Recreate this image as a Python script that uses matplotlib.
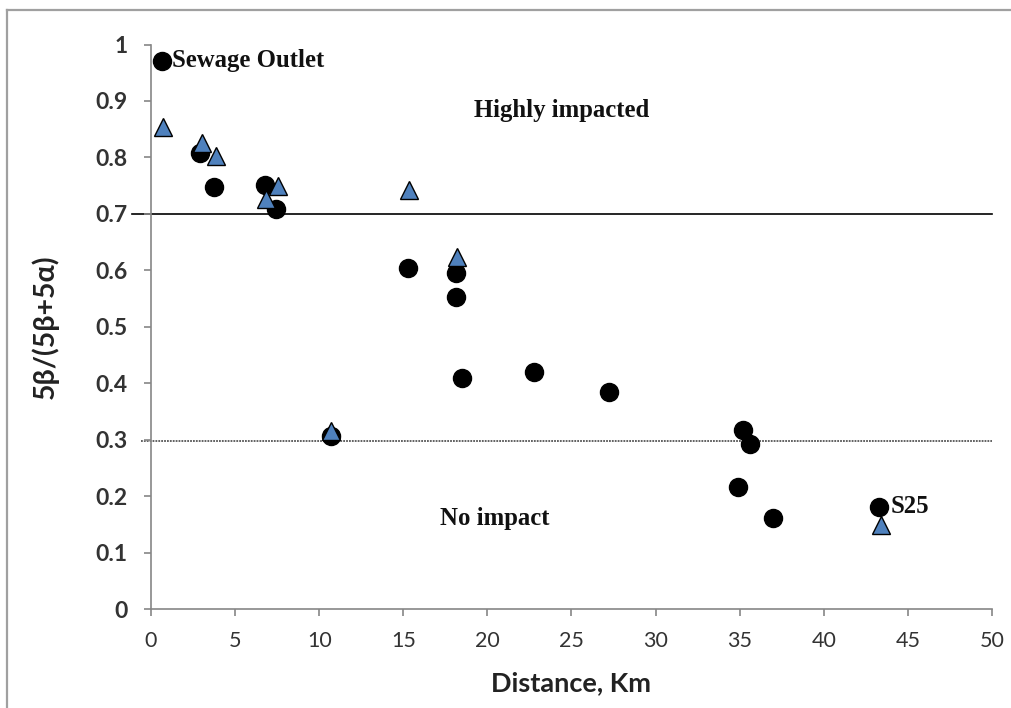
import matplotlib
matplotlib.use('Agg')
import matplotlib.pyplot as plt
from matplotlib.lines import Line2D

# Data
circle_x = [0.67, 2.91, 3.77, 6.78, 7.43, 10.7, 15.3, 18.11, 18.11, 18.47,
            22.79, 27.21, 35.21, 35.61, 34.92, 37.0, 43.3]
circle_y = [0.971, 0.807, 0.748, 0.751, 0.709, 0.306, 0.605, 0.595, 0.552,
            0.409, 0.420, 0.385, 0.318, 0.292, 0.216, 0.161, 0.181]
triangle_x = [0.73, 3.01, 3.85, 6.84, 7.53, 10.7, 15.33, 18.17, 43.4]
triangle_y = [0.854, 0.826, 0.802, 0.726, 0.749, 0.315, 0.743, 0.623, 0.149]

high_threshold = 0.7
low_threshold = 0.297

x_ticks = [0, 5, 10, 15, 20, 25, 30, 35, 40, 45, 50]
y_ticks = [0, 0.1, 0.2, 0.3, 0.4, 0.5, 0.6, 0.7, 0.8, 0.9, 1]
y_tick_labels = ['0', '0.1', '0.2', '0.3', '0.4', '0.5', '0.6', '0.7', '0.8', '0.9', '1']

sans = ['Lato', 'DejaVu Sans']
serif = ['Liberation Serif', 'DejaVu Serif']

fig = plt.figure(figsize=(10.12, 7.08), dpi=100)
ax = fig.add_axes([0.1492, 0.1398, 0.8310, 0.7973])

# Threshold lines
ax.plot([-1.1, 50], [high_threshold, high_threshold], color='black', lw=1.2,
        clip_on=False, zorder=1)
ax.plot([-0.6, 50], [low_threshold, low_threshold], color='#555555', lw=1.3,
        linestyle=(0, (1, 0.6)), clip_on=False, zorder=1)

# Points
ax.plot(circle_x, circle_y, 'o', color='black', markersize=13, zorder=3,
        clip_on=False)
ax.plot(triangle_x, triangle_y, '^', markerfacecolor='#4F81BD',
        markeredgecolor='black', markeredgewidth=1.0, markersize=13, zorder=4,
        clip_on=False)

# Annotations
ax.text(1.25, 0.971, 'Sewage Outlet', family=serif, weight='bold',
        fontsize=17.8, ha='left', va='center', color='#111111')
ax.text(24.4, 0.884, 'Highly impacted', family=serif, weight='bold',
        fontsize=17.8, ha='center', va='center', color='#111111')
ax.text(20.45, 0.161, 'No impact', family=serif, weight='bold',
        fontsize=17.8, ha='center', va='center', color='#111111')
ax.text(44.0, 0.181, 'S25', family=serif, weight='bold',
        fontsize=17.8, ha='left', va='center', color='#111111')

ax.set_xlim(0, 50)
ax.set_ylim(0, 1)
ax.set_xticks(x_ticks)
ax.set_yticks(y_ticks)
ax.set_yticklabels(y_tick_labels)

for side in ['top', 'right']:
    ax.spines[side].set_visible(False)
for side in ['left', 'bottom']:
    ax.spines[side].set_color('#868686')
    ax.spines[side].set_linewidth(1.2)

ax.tick_params(axis='both', direction='out', length=5, width=1.2,
               color='#868686', labelcolor='#333333')
ax.tick_params(axis='x', pad=11)
ax.tick_params(axis='y', pad=12)
for lab in ax.get_xticklabels():
    lab.set_family(sans)
    lab.set_fontsize(15.5)
for lab in ax.get_yticklabels():
    lab.set_family(sans)
    lab.set_fontsize(16.5)
    lab.set_weight('bold')

ax.set_xlabel('Distance, Km', family=sans, weight='bold', fontsize=19.5,
              color='#222222', labelpad=14)
ax.set_ylabel('5β/(5β+5α)', family=sans, weight='bold', fontsize=20.5,
              color='#222222', labelpad=26)

# Outer frame (top and left edges visible)
fig.add_artist(Line2D([7 / 1012, 7 / 1012], [0, 698 / 708],
                      transform=fig.transFigure, color='#a0a0a0', lw=1.6))
fig.add_artist(Line2D([7 / 1012, 1], [698 / 708, 698 / 708],
                      transform=fig.transFigure, color='#a0a0a0', lw=1.6))

fig.savefig('out.png', dpi=100)
